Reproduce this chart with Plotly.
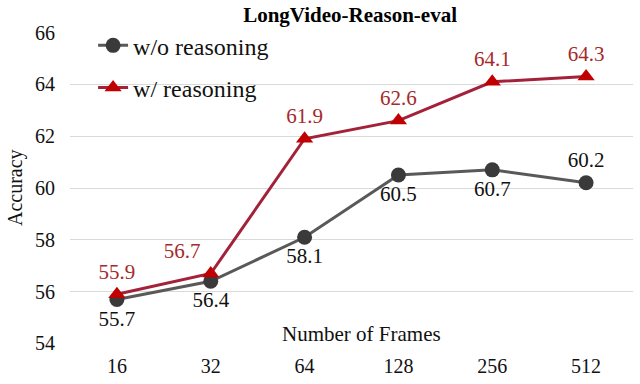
import plotly.graph_objects as go

frames = ["16", "32", "64", "128", "256", "512"]
wo_reasoning = [55.7, 56.4, 58.1, 60.5, 60.7, 60.2]
w_reasoning = [55.9, 56.7, 61.9, 62.6, 64.1, 64.3]
wo_label_pos = ["bottom center"] * 5 + ["top center"]
w_label_pos = ["top center", "top left", "top center", "top center", "top center", "top center"]
y_ticks = [54, 56, 58, 60, 62, 64, 66]

FONT = "Liberation Serif"

fig = go.Figure()
fig.add_trace(go.Scatter(
    x=frames, y=wo_reasoning, name="w/o reasoning", legendgroup="a",
    mode="lines+markers+text",
    line=dict(color="#595959", width=3),
    marker=dict(symbol="circle", size=15, color="#3a3a3a"),
    text=[f"{v:.1f}" for v in wo_reasoning], textposition=wo_label_pos,
    textfont=dict(family=FONT, size=21, color="#111111"),
))
fig.add_trace(go.Scatter(
    x=frames, y=w_reasoning, name="w/ reasoning", legendgroup="b",
    mode="lines+markers+text",
    line=dict(color="#a3223a", width=3),
    marker=dict(symbol="triangle-up", size=15, color="#c00000"),
    text=[f"{v:.1f}" for v in w_reasoning], textposition=w_label_pos,
    textfont=dict(family=FONT, size=21, color="#a52a2a"),
))

fig.update_layout(
    width=640, height=384,
    margin=dict(l=70, r=7, t=32, b=38),
    paper_bgcolor="white", plot_bgcolor="white",
    font=dict(family=FONT, size=20, color="#111111"),
    title=dict(text="<b>LongVideo-Reason-eval</b>", x=0.547, xref="container",
               xanchor="center", y=0.961, yref="container", yanchor="middle",
               font=dict(family=FONT, size=21, color="#000000")),
    showlegend=True,
    legend=dict(x=0.041, y=1.028, xanchor="left", yanchor="top",
                bgcolor="rgba(0,0,0,0)", tracegroupgap=8,
                font=dict(family=FONT, size=24, color="#111111")),
    xaxis=dict(type="category", range=[-0.5, 5.5], showgrid=False,
               showline=False, zeroline=False, ticks="",
               tickfont=dict(family=FONT, size=20, color="#111111"),
               ticklabelstandoff=8),
    yaxis=dict(range=[53.98, 66.02], tickvals=y_ticks, showgrid=True,
               gridcolor="#d9d9d9", gridwidth=1.2, zeroline=False,
               showline=False, ticks="",
               tickfont=dict(family=FONT, size=20, color="#111111"),
               ticklabelstandoff=14),
    annotations=[
        dict(text="Accuracy", x=0, y=0.5, xref="paper", yref="paper",
             xanchor="center", yanchor="middle", xshift=-55, textangle=-90,
             showarrow=False, font=dict(family=FONT, size=20, color="#111111")),
        dict(text="Number of Frames", x=0.517, y=0.032, xref="paper", yref="paper",
             xanchor="center", yanchor="middle", showarrow=False,
             font=dict(family=FONT, size=21, color="#111111")),
    ],
)

fig.write_html("out.html", config={"displayModeBar": False},
               post_script="document.body.style.margin='0';")
